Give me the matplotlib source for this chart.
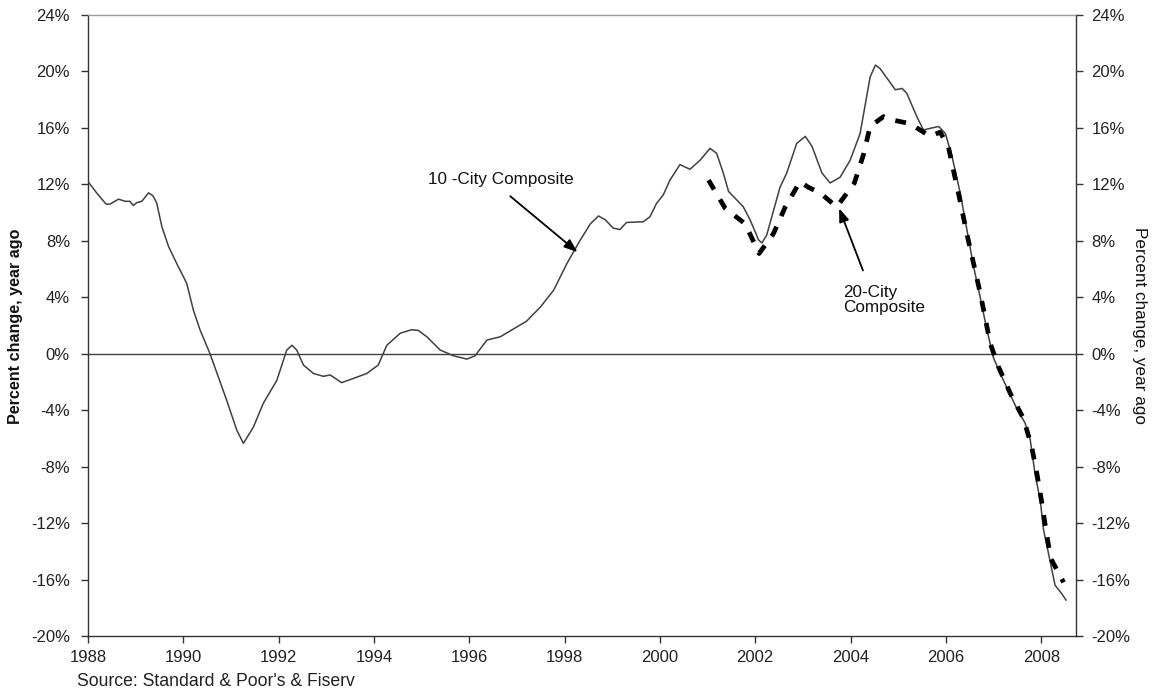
import matplotlib
matplotlib.use("Agg")
import matplotlib.pyplot as plt

plt.rcParams['font.family'] = ['Liberation Sans', 'DejaVu Sans']

# 10-City Composite (decimal year, % change year ago)
ten_x = [1988.00, 1988.18, 1988.38, 1988.46, 1988.64, 1988.78, 1988.88, 1988.95, 1989.02, 1989.13,
         1989.27, 1989.36, 1989.44, 1989.55, 1989.69, 1989.86, 1990.07, 1990.21, 1990.35, 1990.56,
         1990.91, 1991.12, 1991.26, 1991.47, 1991.68, 1991.96, 1992.17, 1992.28, 1992.38, 1992.52,
         1992.73, 1992.94, 1993.08, 1993.32, 1993.57, 1993.85, 1994.09, 1994.27, 1994.55, 1994.79,
         1994.93, 1995.11, 1995.39, 1995.67, 1995.95, 1996.12, 1996.37, 1996.65, 1997.00, 1997.20,
         1997.49, 1997.77, 1998.05, 1998.33, 1998.54, 1998.71, 1998.85, 1999.02, 1999.16, 1999.30,
         1999.65, 1999.79, 1999.93, 2000.07, 2000.21, 2000.42, 2000.63, 2000.84, 2001.05, 2001.19,
         2001.33, 2001.44, 2001.61, 2001.75, 2001.89, 2002.07, 2002.14, 2002.24, 2002.52, 2002.66,
         2002.87, 2003.05, 2003.19, 2003.40, 2003.57, 2003.78, 2003.99, 2004.20, 2004.41, 2004.52,
         2004.62, 2004.94, 2005.08, 2005.18, 2005.39, 2005.53, 2005.67, 2005.85, 2005.99, 2006.13,
         2006.30, 2006.44, 2006.58, 2006.72, 2006.86, 2007.00, 2007.14, 2007.35, 2007.49, 2007.66,
         2007.77, 2007.87, 2007.98, 2008.05, 2008.15, 2008.29, 2008.43, 2008.52]
ten_y = [12.2, 11.4, 10.6, 10.6, 10.95, 10.8, 10.8, 10.5, 10.7, 10.8,
         11.4, 11.2, 10.7, 9.0, 7.6, 6.4, 5.0, 3.1, 1.7, 0.0,
         -3.3, -5.4, -6.35, -5.2, -3.5, -1.9, 0.26, 0.6, 0.26, -0.8,
         -1.4, -1.6, -1.5, -2.05, -1.75, -1.4, -0.8, 0.6, 1.45, 1.7,
         1.65, 1.2, 0.26, -0.15, -0.38, -0.15, 0.97, 1.2, 1.9, 2.3,
         3.3, 4.5, 6.4, 8.06, 9.2, 9.76, 9.5, 8.9, 8.8, 9.3,
         9.35, 9.7, 10.66, 11.25, 12.3, 13.4, 13.07, 13.7, 14.55, 14.2,
         12.8, 11.5, 10.9, 10.4, 9.5, 8.06, 7.85, 8.4, 11.8, 12.8,
         14.9, 15.4, 14.7, 12.8, 12.1, 12.5, 13.7, 15.6, 19.6, 20.45,
         20.2, 18.7, 18.8, 18.45, 16.8, 15.85, 15.97, 16.1, 15.6, 13.96,
         11.4, 8.8, 6.2, 4.0, 1.7, -0.3, -1.4, -2.9, -3.9, -4.9,
         -6.1, -8.5, -10.4, -12.5, -14.1, -16.4, -17.0, -17.45]

# 20-City Composite
twenty_x = [2001.02, 2001.37, 2001.79, 2002.08, 2002.38, 2002.63, 2002.94, 2003.11, 2003.36, 2003.71,
            2004.08, 2004.27, 2004.41, 2004.69, 2004.83, 2005.25, 2005.67, 2005.88, 2006.05, 2006.19,
            2006.30, 2006.44, 2006.58, 2006.72, 2006.93, 2007.10, 2007.35, 2007.63, 2007.80, 2007.91,
            2008.01, 2008.10, 2008.20, 2008.47]
twenty_y = [12.3, 10.3, 9.2, 7.1, 8.5, 10.4, 12.2, 11.8, 11.4, 10.4,
            12.1, 14.1, 16.1, 16.8, 16.6, 16.3, 15.4, 15.7, 14.7, 12.5,
            10.8, 8.5, 6.4, 4.3, 0.74, -0.9, -2.8, -4.6, -6.6, -8.5,
            -10.5, -12.5, -14.5, -16.2]

x_ticks = list(range(1988, 2009, 2))
y_ticks = list(range(-20, 25, 4))

fig = plt.figure(figsize=(11.59, 6.96), dpi=100)
ax = fig.add_axes([88/1159, 1-636/696, (1076-88)/1159, (636-15)/696])

ax.plot(ten_x, ten_y, color='#404040', lw=1.1, zorder=3)
ax.plot(twenty_x, twenty_y, color='black', lw=3.4, linestyle=(0, (2.3, 2.45)),
        dash_capstyle='butt', zorder=4)
ax.axhline(0, color='#404040', lw=1.0, zorder=2)

ax.set_xlim(1988, 2008.73)
ax.set_ylim(-20, 24)
ax.set_xticks(x_ticks)
ax.set_xticklabels([str(t) for t in x_ticks], fontsize=12, color='#222222')
ax.set_yticks(y_ticks)
ax.set_yticklabels([f"{t}%" for t in y_ticks], fontsize=12, color='#222222')
ax.tick_params(axis='both', direction='out', length=5, width=1, color='#333333')
ax.tick_params(axis='x', pad=5)
ax.tick_params(axis='y', pad=8)

for s in ['left', 'bottom', 'right']:
    ax.spines[s].set_color('#333333')
    ax.spines[s].set_linewidth(1.0)
ax.spines['top'].set_color('#999999')
ax.spines['top'].set_linewidth(1.0)

ax2 = ax.twinx()
ax2.set_ylim(-20, 24)
ax2.set_yticks(y_ticks)
ax2.set_yticklabels([f"{t}%" for t in y_ticks], fontsize=12, color='#222222')
ax2.tick_params(axis='y', direction='out', length=5, width=1, color='#333333', pad=6)
for s in ax2.spines.values():
    s.set_visible(False)

fig.text(16/1159, 1-326/696, 'Percent change, year ago', fontsize=11.6, fontweight='bold',
         rotation=90, ha='center', va='center', color='#111111')
fig.text(1140/1159, 1-325/696, 'Percent change, year ago', fontsize=12.3, fontweight='normal',
         rotation=-90, ha='center', va='center', color='#111111')

ax.text(1996.66, 12.38, '10 -City Composite', fontsize=12.3, ha='center', va='center',
        color='#111111')
ax.annotate('', xy=(1998.27, 7.2), xytext=(1996.86, 11.16),
            arrowprops=dict(arrowstyle='-|>,head_length=0.8,head_width=0.3', color='black', lw=1.3,
                            shrinkA=0, shrinkB=0))
ax.text(2003.84, 3.8, '20-City\nComposite', fontsize=12.3, ha='left', va='center',
        linespacing=1.0, color='#111111')
ax.annotate('', xy=(2003.76, 10.3), xytext=(2004.26, 5.9),
            arrowprops=dict(arrowstyle='-|>,head_length=0.8,head_width=0.3', color='black', lw=1.3,
                            shrinkA=0, shrinkB=0))

fig.text(77/1159, 1-681/696, "Source: Standard & Poor's & Fiserv", fontsize=12.7,
         ha='left', va='center', color='#222222')

fig.savefig('out.png', dpi=100)
